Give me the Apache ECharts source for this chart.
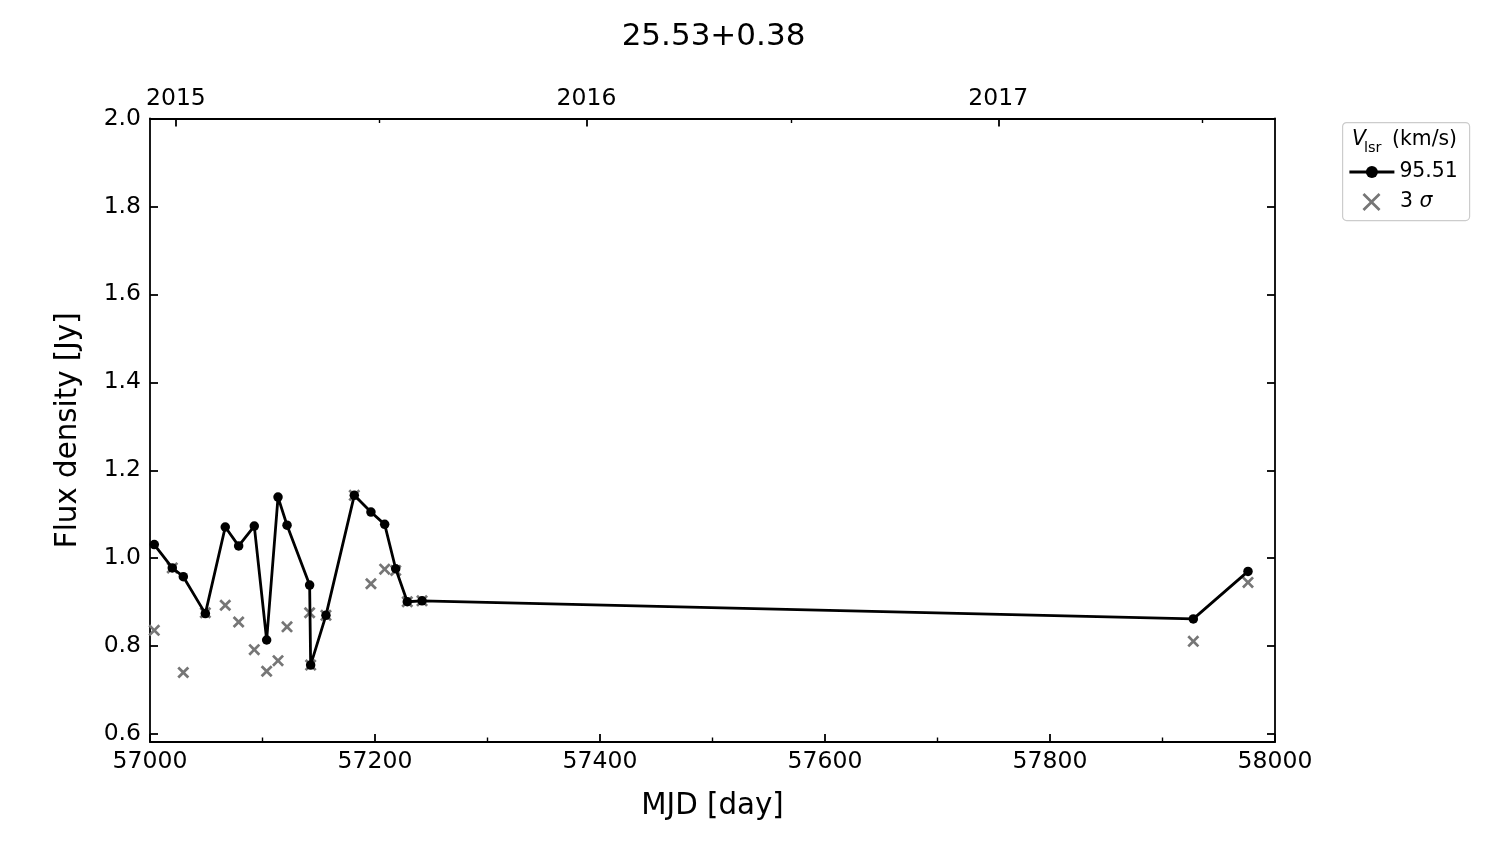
<!DOCTYPE html>
<html>
<head>
<meta charset="utf-8">
<script src="https://cdn.jsdelivr.net/npm/echarts@6/dist/echarts.min.js"></script>
<style>html,body{margin:0;padding:0;background:#fff;}#c{width:1500px;height:844px;}</style>
</head>
<body>
<div id="c"></div>
<script>
// MJD of each observation
const mjd = [57003.8, 57019.8, 57029.6, 57049.2, 57066.9, 57078.8, 57092.7, 57103.7, 57113.8, 57121.8,
             57141.9, 57142.8, 57156.4, 57181.6, 57196.4, 57208.6, 57218.4, 57228.7, 57241.8, 57927.4, 57976.0];
// Flux density (Jy) of the 95.51 km/s feature
const flux = [1.031, 0.978, 0.958, 0.874, 1.071, 1.028, 1.073, 0.814, 1.139, 1.075,
              0.939, 0.757, 0.870, 1.143, 1.105, 1.077, 0.976, 0.901, 0.903, 0.862, 0.970];
// 3 sigma level (Jy)
const sigma3 = [0.836, 0.978, 0.740, 0.876, 0.893, 0.855, 0.792, 0.743, 0.767, 0.844,
                0.876, 0.757, 0.870, 1.143, 0.942, 0.975, 0.972, 0.901, 0.903, 0.811, 0.945];
// tick labels
const yTicks = [0.6, 0.8, 1.0, 1.2, 1.4, 1.6, 1.8, 2.0];
const yearTicks = [57023, 57388, 57754];
const yearLabels = ['2015', '2016', '2017'];
const halfYearTicks = [57204, 57570, 57935];
const seriesName = '95.51';
const sigmaName = '3σ';

const FONT = 'DejaVu Sans';
const chart = echarts.init(document.getElementById('c'), null, {renderer: 'canvas'});
const gridRect = {left: 150, right: 225, top: 118.5, bottom: 102};
// filled "x" marker (10x10 box)
const XPATH = 'path://M0,1.6L1.6,0L5,3.4L8.4,0L10,1.6L6.6,5L10,8.4L8.4,10L5,6.6L1.6,10L0,8.4L3.4,5Z';
// legend icon: same "x" (18 px) centred in a 47x18 box (moveTo corners fix the bounding box)
const XLEG = 'path://M0,0M47,18M14.5,1.9L16.4,0L23.5,7.1L30.6,0L32.5,1.9L25.4,9L32.5,16.1L30.6,18L23.5,10.9L16.4,18L14.5,16.1L21.6,9Z';
const axisLine = {show: true, lineStyle: {color: '#000', width: 1.8}};

chart.setOption({
  animation: false,
  backgroundColor: '#fff',
  textStyle: {fontFamily: FONT},
  title: {
    text: '25.53+0.38', left: 708.5, textAlign: 'center', top: 16,
    textStyle: {fontFamily: FONT, fontSize: 31, fontWeight: 'normal', color: '#000'}
  },
  grid: [Object.assign({}, gridRect), Object.assign({}, gridRect)],
  xAxis: [
    {
      type: 'value', gridIndex: 0, position: 'bottom', min: 57000, max: 58000, interval: 200,
      name: 'MJD [day]', nameLocation: 'middle', nameGap: 49.5,
      nameTextStyle: {fontFamily: FONT, fontSize: 29.3, color: '#000'},
      axisLine: axisLine,
      axisTick: {show: true, inside: true, length: 8, lineStyle: {color: '#000', width: 1.8}},
      minorTick: {show: true, splitNumber: 2, length: 4.5, lineStyle: {color: '#000', width: 1.4}},
      axisLabel: {fontFamily: FONT, fontSize: 23.5, color: '#000', margin: 8,
        formatter: function (v) { return String(Math.round(v)); }},
      splitLine: {show: false}
    },
    {
      type: 'value', gridIndex: 0, position: 'top', min: 57000, max: 58000,
      axisLine: axisLine,
      axisTick: {show: true, inside: true, length: 8, customValues: yearTicks, lineStyle: {color: '#000', width: 1.8}},
      axisLabel: {show: true, customValues: yearTicks, fontFamily: FONT, fontSize: 23.5, color: '#000', margin: 8,
        formatter: function (v) { const i = yearTicks.indexOf(Math.round(v)); return i >= 0 ? yearLabels[i] : ''; }},
      splitLine: {show: false}
    },
    {
      type: 'value', gridIndex: 1, position: 'top', min: 57000, max: 58000,
      axisLine: {show: false},
      axisTick: {show: true, inside: true, length: 4.5, customValues: halfYearTicks, lineStyle: {color: '#000', width: 1.4}},
      axisLabel: {show: false},
      splitLine: {show: false}
    }
  ],
  yAxis: [
    {
      type: 'value', gridIndex: 0, position: 'left', min: 0.582, max: 2.0,
      name: 'Flux density [Jy]', nameLocation: 'middle', nameGap: 67, nameRotate: 90,
      nameTextStyle: {fontFamily: FONT, fontSize: 29.3, color: '#000'},
      axisLine: axisLine,
      axisTick: {show: true, inside: true, length: 8, customValues: yTicks, lineStyle: {color: '#000', width: 1.8}},
      axisLabel: {show: true, customValues: yTicks, fontFamily: FONT, fontSize: 23.5, color: '#000', margin: 9,
        formatter: function (v) { return v.toFixed(1); }},
      splitLine: {show: false}
    },
    {
      type: 'value', gridIndex: 0, position: 'right', min: 0.582, max: 2.0,
      axisLine: axisLine,
      axisTick: {show: true, inside: true, length: 8, customValues: yTicks, lineStyle: {color: '#000', width: 1.8}},
      axisLabel: {show: false},
      splitLine: {show: false}
    },
    {
      type: 'value', gridIndex: 1, min: 0.582, max: 2.0, show: false
    }
  ],
  legend: [
    {
      data: [seriesName], orient: 'vertical', left: 1348, top: 162, padding: 0,
      itemWidth: 45, itemHeight: 15,
      lineStyle: {width: 2.8, color: '#000'},
      textStyle: {fontFamily: FONT, fontSize: 20.4, color: '#000'}
    },
    {
      data: [{name: sigmaName, icon: XLEG}], orient: 'vertical', left: 1348, top: 192, padding: 0,
      itemWidth: 47, itemHeight: 18, symbolKeepAspect: false,
      formatter: function () { return '3 {i|σ}'; },
      textStyle: {fontFamily: FONT, fontSize: 20.4, color: '#000',
        rich: {i: {fontFamily: FONT, fontSize: 20.4, fontStyle: 'italic', color: '#000'}}}
    }
  ],
  graphic: [
    {type: 'rect', left: 1342, top: 122, shape: {width: 127, height: 98, r: 4},
     style: {fill: '#fff', stroke: '#cccccc', lineWidth: 1.2}, z: -1},
    {type: 'text', x: 1352, y: 140, style: {text: 'V', fontFamily: FONT, fontSize: 20.4, fontStyle: 'italic', fill: '#000', verticalAlign: 'middle'}},
    {type: 'text', x: 1364, y: 148, style: {text: 'lsr', fontFamily: FONT, fontSize: 14.5, fill: '#000', verticalAlign: 'middle'}},
    {type: 'text', x: 1392, y: 140, style: {text: '(km/s)', fontFamily: FONT, fontSize: 20.4, fill: '#000', verticalAlign: 'middle'}}
  ],
  series: [
    {
      name: sigmaName, type: 'scatter', xAxisIndex: 0, yAxisIndex: 0,
      data: mjd.map(function (m, i) { return [m, sigma3[i]]; }),
      symbol: XPATH, symbolSize: 12, symbolKeepAspect: true,
      itemStyle: {color: '#767676', opacity: 1}, z: 2
    },
    {
      name: seriesName, type: 'line', xAxisIndex: 0, yAxisIndex: 0,
      data: mjd.map(function (m, i) { return [m, flux[i]]; }),
      symbol: 'circle', symbolSize: 9.5, showSymbol: true, showAllSymbol: true,
      lineStyle: {color: '#000', width: 2.8}, itemStyle: {color: '#000'}, z: 3
    }
  ]
});
</script>
</body>
</html>
